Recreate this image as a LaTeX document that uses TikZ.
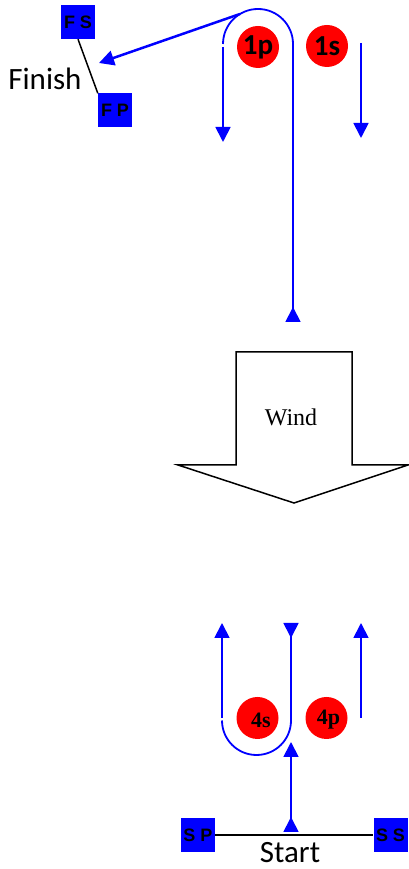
\documentclass[tikz,border=0pt]{standalone}
\usepackage{fontspec}
\usepackage{tikz}
\usetikzlibrary{arrows.meta}
\newfontfamily\calfont{Carlito}
\newfontfamily\arialfont{Liberation Sans}
\newfontfamily\timesfont{Liberation Serif}

\tikzset{
  flag/.style={fill=blue, minimum size=34pt, inner sep=0pt,
    font=\arialfont\bfseries\fontsize{18}{18}\selectfont},
  ball/.style={circle, fill=red, minimum size=42pt, inner sep=0pt},
  course/.style={blue, line width=1.8pt},
  tip/.style={-{Triangle[length=15pt,width=15pt]}},
  marker/.style={{Triangle[length=15pt,width=15pt,reversed]}-},
  endmarker/.style={-{Triangle[length=15pt,width=15pt,reversed]}},
  markertip/.style={{Triangle[length=15pt,width=15pt,reversed]}-{Triangle[length=15pt,width=15pt]}}
}

\begin{document}
\begin{tikzpicture}[x=1pt,y=1pt]

\useasboundingbox (0,0) rectangle (409,869);

% finish line
\node (FS) at (78,847) [flag] {F S};
\node (FP) at (115,758.5) [flag] {F P};
\draw [line width=1.5pt] (FS.south) -- (FP.north west);
\node (finish) at (45,790) {\calfont\fontsize{31}{31}\selectfont Finish};

% start line
\node (SP) at (198,34) [flag] {S P};
\node (SS) at (390.5,34) [flag] {S S};
\draw [line width=1.5pt] (SP.east) -- (SS.west);
\node (start) at (290,16) {\calfont\fontsize{31}{31}\selectfont Start};

% gate 1
\node (m1p) at (258,822) [ball] {\calfont\bfseries\fontsize{29}{29}\selectfont 1p};
\node (m1s) at (327,823) [ball] {\calfont\bfseries\fontsize{29}{29}\selectfont 1s};

% gate 4
\node (m4s) at (257.5,151) [ball] {};
\node at (261,149) {\timesfont\bfseries\fontsize{22}{22}\selectfont 4s};
\node (m4p) at (326.5,151) [ball] {};
\node at (328.5,149) {\timesfont\bfseries\fontsize{22}{22}\selectfont 4p};

% wind
\draw [line width=1.5pt, fill=white] (236,517) -- (352,517) -- (352,404) -- (408,404)
  -- (294,366) -- (178,404) -- (236,404) -- cycle;
\node (wind) at (291,452) {\timesfont\fontsize{24}{24}\selectfont Wind};

% upper course
\coordinate (u1) at (293,547);
\coordinate (u2) at (293,825);
\coordinate (u3) at (223,822);
\coordinate (u4) at (223,727);
\coordinate (u5) at (240,855);
\coordinate (s1a) at (361,826);
\coordinate (s1b) at (361,731);
\draw [course, marker] (u1) -- (u2) arc (0:180:35);
\draw [course, tip] (u3) -- (u4);
\draw [course, line width=2.5pt, tip] (u5) -- (99,806);
\draw [course, tip] (s1a) -- (s1b);

% lower course
\coordinate (l1) at (222,151);
\coordinate (l2) at (222,246);
\coordinate (l3) at (222,148.5);
\coordinate (l4) at (291,246);
\coordinate (l5) at (291,37);
\coordinate (l6) at (291,127);
\coordinate (l7) at (361,151);
\coordinate (l8) at (361,246);
\draw [course, tip] (l1) -- (l2);
\draw [course, endmarker] (l3) arc (180:360:34.5) -- (l4);
\draw [course, markertip] (l5) -- (l6);
\draw [course, tip] (l7) -- (l8);

\end{tikzpicture}
\end{document}
